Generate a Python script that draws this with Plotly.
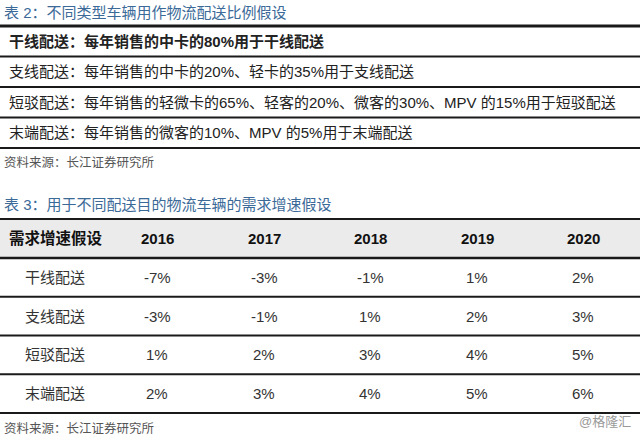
import plotly.graph_objects as go

# ---------------- data ----------------
table2_title = "表 2：不同类型车辆用作物流配送比例假设"
table2_labels = ["干线配送", "支线配送", "短驳配送", "末端配送"]
table2_desc = [
    "每年销售的中卡的80%用于干线配送",
    "每年销售的中卡的20%、轻卡的35%用于支线配送",
    "每年销售的轻微卡的65%、轻客的20%、微客的30%、MPV 的15%用于短驳配送",
    "每年销售的微客的10%、MPV 的5%用于末端配送",
]
source_text = "资料来源：长江证券研究所"

table3_title = "表 3：用于不同配送目的物流车辆的需求增速假设"
table3_header = "需求增速假设"
years = ["2016", "2017", "2018", "2019", "2020"]
categories = ["干线配送", "支线配送", "短驳配送", "末端配送"]
growth_trunk = [-7, -3, -1, 1, 2]
growth_branch = [-3, -1, 1, 2, 3]
growth_shuttle = [1, 2, 3, 4, 5]
growth_terminal = [2, 3, 4, 5, 6]
growth_rows = [growth_trunk, growth_branch, growth_shuttle, growth_terminal]
watermark = "@格隆汇"

# ---------------- styling / layout ----------------
W, H = 640, 437
FONT = "Arial, 'Liberation Sans', 'Noto Sans CJK SC', sans-serif"
TITLE_COLOR = "#3b6a98"
TEXT = "#222222"
LINE = "#1a1a1a"

fig = go.Figure()
shapes = []
ann = []


def hline(y, w=2):
    shapes.append(dict(type="line", xref="x", yref="y", x0=0, x1=W, y0=y, y1=y,
                       line=dict(color=LINE, width=w)))


def text(x, y, s, size=15, color=TEXT, anchor="left", bold=False):
    if bold:
        s = "<b>" + s + "</b>"
    ann.append(dict(x=x, y=y, xref="x", yref="y", text=s, showarrow=False,
                    xanchor=anchor, yanchor="middle",
                    font=dict(family=FONT, size=size, color=color)))


# ----- table 2 -----
text(2, 12, table2_title, size=15, color=TITLE_COLOR)
t2_top = 26
t2_row_h = 30.5
hline(t2_top, 3)
for i, (lab, desc) in enumerate(zip(table2_labels, table2_desc)):
    yc = t2_top + t2_row_h * (i + 0.5)
    text(7, yc, lab + "：" + desc, size=15, bold=(i == 0))
    hline(t2_top + t2_row_h * (i + 1), 2)
text(2, 162, source_text, size=12.5, color="#555555")

# ----- table 3 -----
text(2, 204, table3_title, size=15, color=TITLE_COLOR)
t3_top = 219
hdr_h = 39
row_h = 38.75
col_x = [157, 264, 370, 477, 583]
shapes.append(dict(type="rect", xref="x", yref="y", x0=0, x1=W, y0=t3_top, y1=t3_top + hdr_h,
                   fillcolor="#ebebeb", line=dict(width=0), layer="below"))
hline(t3_top, 2)
hline(t3_top + hdr_h, 2.5)
text(7, t3_top + hdr_h / 2, table3_header, size=15.5, bold=True, color="#111111")
for x, yr in zip(col_x, years):
    text(x, t3_top + hdr_h / 2, yr, size=15, bold=True, color="#111111", anchor="center")
for i, (cat, vals) in enumerate(zip(categories, growth_rows)):
    yc = t3_top + hdr_h + row_h * (i + 0.5)
    text(55, yc, cat, size=15, anchor="center", color="#333333")
    for x, v in zip(col_x, vals):
        text(x, yc, f"{v}%", size=15, anchor="center", color="#333333")
    hline(t3_top + hdr_h + row_h * (i + 1), 2)
text(2, 428, source_text, size=12.5, color="#555555")
text(633, 421, watermark, size=13, color="#9a9a9a", anchor="right")

fig.update_layout(
    width=W, height=H,
    margin=dict(l=0, r=0, t=0, b=0),
    paper_bgcolor="white", plot_bgcolor="white",
    xaxis=dict(range=[0, W], visible=False, fixedrange=True),
    yaxis=dict(range=[H, 0], visible=False, fixedrange=True),
    shapes=shapes, annotations=ann, showlegend=False,
)
fig.write_html("out.html", config={"displayModeBar": False},
               post_script="document.body.style.margin='0';document.body.style.overflow='hidden';")
